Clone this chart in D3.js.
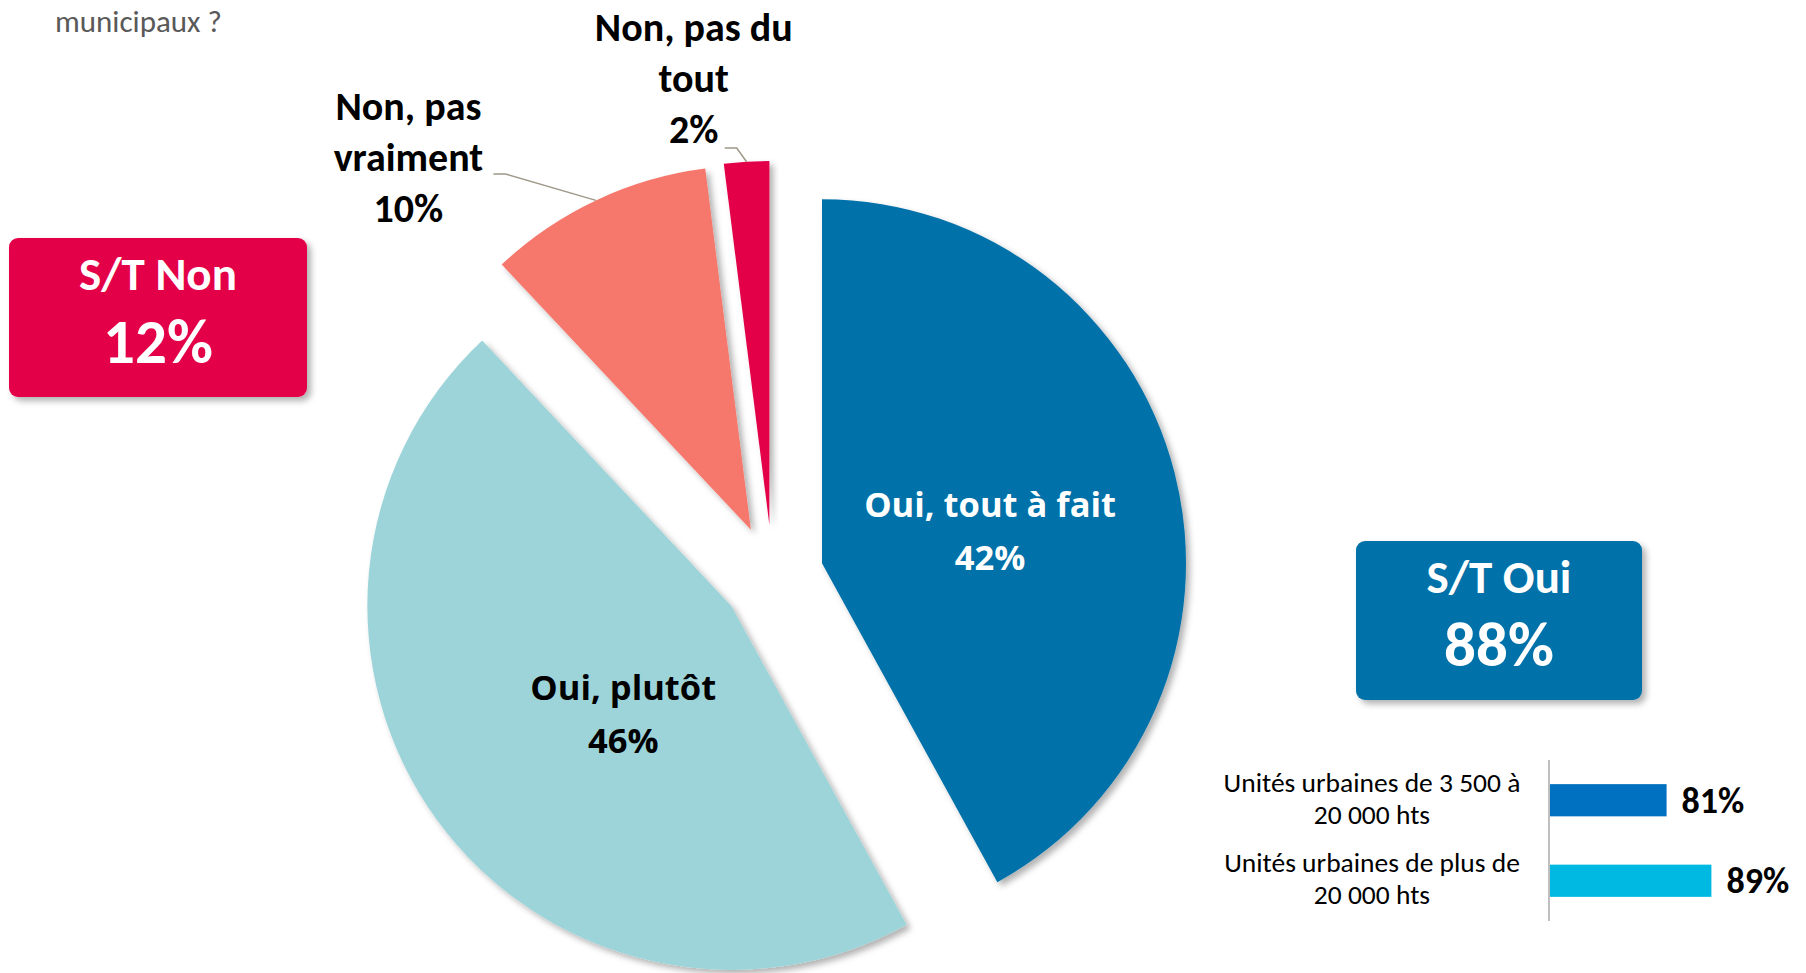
<!DOCTYPE html>
<html lang="fr">
<head>
<meta charset="utf-8">
<script src="https://cdn.jsdelivr.net/npm/d3@7"></script>
<style>
  body { margin: 0; background: #fff; }
  svg { display: block; font-family: Carlito, Calibri, "Liberation Sans Narrow", "Open Sans", sans-serif; }
</style>
</head>
<body>
<svg id="chart" width="1806" height="973"></svg>
<script>
// --- data ---
const categories = ["Oui, tout à fait", "Oui, plutôt", "Non, pas vraiment", "Non, pas du tout"];
const values = [42, 46, 10, 2];
const labelLines = [["Oui, tout à fait"], ["Oui, plutôt"], ["Non, pas", "vraiment"], ["Non, pas du", "tout"]];
const subtotalLabels = ["S/T Oui", "S/T Non"];
const subtotalParts = [[0, 1], [2, 3]];
const barCategories = [["Unités urbaines de 3 500 à", "20 000 hts"], ["Unités urbaines de plus de", "20 000 hts"]];
const barValues = [81, 89];
const questionTail = "municipaux ?";

// --- styles ---
const sliceColors = ["#0071A9", "#9DD4D9", "#F6786C", "#E4004A"];
const insideText = ["#ffffff", "#000000"];
const barColors = ["#0070C0", "#00B9E2"];
// inner labels: angle shift (deg) from slice middle, radius factor
const innerLabelStyle = {0: {shift: 3.7, rf: 0.47}, 1: {shift: -9, rf: 0.42}};
// outer labels: angle shift (deg) from slice middle, radius factor, leader start offset
const outerLabelStyle = {2: {shift: -15.8, rf: 1.525, lead: [85, 17]}, 3: {shift: -5.4, rf: 1.385, lead: [31, 70]}};

const width = 1806, height = 973;
const svg = d3.select("#chart");

const defs = svg.append("defs");
defs.append("filter").attr("id", "shadow")
  .attr("x", "-20%").attr("y", "-20%").attr("width", "140%").attr("height", "140%")
  .append("feDropShadow")
  .attr("dx", 4).attr("dy", 4).attr("stdDeviation", 3)
  .attr("flood-color", "#000").attr("flood-opacity", 0.3);

// question tail (top left)
svg.append("text")
  .attr("x", 55).attr("y", 32)
  .attr("fill", "#595959")
  .style("font-size", "31px")
  .text(questionTail);

// --- pie ---
const cx = 772.6, cy = 575.9, radius = 364, explode = 51;
const pie = d3.pie().sort(null).value(d => d).startAngle(0).endAngle(2 * Math.PI);
const arcs = pie(values);
const arc = d3.arc().innerRadius(0).outerRadius(radius);

const mid = d => (d.startAngle + d.endAngle) / 2;
const shift = d => [explode * Math.sin(mid(d)), -explode * Math.cos(mid(d))];

const pieG = svg.append("g").attr("transform", `translate(${cx},${cy})`);

pieG.selectAll("path.slice")
  .data(arcs)
  .join("path")
  .attr("class", "slice")
  .attr("transform", d => `translate(${shift(d)})`)
  .attr("d", arc)
  .attr("fill", (d, i) => sliceColors[i])
  .attr("filter", "url(#shadow)");

arcs.forEach((d, i) => {
  const pct = values[i] + "%";
  const lines = labelLines[i].concat([pct]);
  if (innerLabelStyle[i]) {
    // label inside the slice
    const st = innerLabelStyle[i];
    const [sx, sy] = shift(d);
    const a = mid(d) + st.shift * Math.PI / 180;
    const lx = sx + st.rf * radius * Math.sin(a), ly = sy - st.rf * radius * Math.cos(a);
    const lh = 53;
    pieG.append("text")
      .attr("text-anchor", "middle")
      .attr("fill", insideText[i])
      .style("font-family", "'Open Sans', sans-serif")
      .style("font-weight", "bold")
      .style("font-size", "34.5px")
      .selectAll("tspan")
      .data(lines)
      .join("tspan")
      .attr("x", lx)
      .attr("y", (t, j) => ly + (j - (lines.length - 1) / 2) * lh)
      .attr("dy", "0.35em")
      .text(t => t);
  } else {
    const st = outerLabelStyle[i];
    const a = mid(d) + st.shift * Math.PI / 180;
    const lx = st.rf * radius * Math.sin(a), ly = -st.rf * radius * Math.cos(a);
    const lh = 51;
    pieG.append("text")
      .attr("text-anchor", "middle")
      .attr("fill", "#000")
      .style("font-weight", "bold")
      .style("font-size", "40px")
      .selectAll("tspan")
      .data(lines)
      .join("tspan")
      .attr("x", lx)
      .attr("y", (t, j) => ly + (j - (lines.length - 1) / 2) * lh)
      .attr("dy", "0.35em")
      .text(t => t);

    // leader line to middle of the exploded arc
    const [sx, sy] = shift(d);
    const ex = sx + radius * Math.sin(mid(d)), ey = sy - radius * Math.cos(mid(d));
    const x0 = lx + st.lead[0], y0 = ly + st.lead[1];
    pieG.append("polyline")
      .attr("points", `${x0},${y0} ${x0 + 12},${y0} ${ex},${ey}`)
      .attr("fill", "none")
      .attr("stroke", "#A09888")
      .attr("stroke-width", 1.5);
  }
});

// --- subtotal boxes ---
const boxes = [
  {x: 1356, y: 541, w: 286, h: 159},
  {x: 9, y: 238, w: 298, h: 159}
];
subtotalLabels.forEach((lab, k) => {
  const b = boxes[k];
  const total = d3.sum(subtotalParts[k], i => values[i]);
  const g = svg.append("g");
  g.append("rect")
    .attr("x", b.x).attr("y", b.y)
    .attr("width", b.w).attr("height", b.h)
    .attr("rx", 9)
    .attr("fill", sliceColors[k === 0 ? 0 : 3])
    .attr("filter", "url(#shadow)");
  g.append("text")
    .attr("x", b.x + b.w / 2).attr("y", b.y + 36)
    .attr("dy", "0.35em")
    .attr("text-anchor", "middle")
    .attr("fill", "#fff")
    .style("font-weight", "bold")
    .style("font-size", "47px")
    .text(lab);
  g.append("text")
    .attr("x", b.x + b.w / 2).attr("y", b.y + 103)
    .attr("dy", "0.35em")
    .attr("text-anchor", "middle")
    .attr("fill", "#fff")
    .style("font-weight", "bold")
    .style("font-size", "63px")
    .text(total + "%");
});

// --- small bar chart ---
const axisX = 1549;
const xScale = d3.scaleLinear().domain([60, 100]).range([0, 224]);
const yScale = d3.scaleBand()
  .domain(d3.range(barValues.length))
  .range([760, 921])
  .paddingInner(0.6)
  .paddingOuter(0.3);

const barG = svg.append("g");
barG.selectAll("rect")
  .data(barValues)
  .join("rect")
  .attr("x", axisX)
  .attr("y", (d, i) => yScale(i))
  .attr("width", d => xScale(d))
  .attr("height", yScale.bandwidth())
  .attr("fill", (d, i) => barColors[i]);

barG.append("line")
  .attr("x1", axisX).attr("x2", axisX)
  .attr("y1", 760).attr("y2", 921)
  .attr("stroke", "#BFBFBF")
  .attr("stroke-width", 2);

barG.selectAll("text.val")
  .data(barValues)
  .join("text")
  .attr("class", "val")
  .attr("x", d => axisX + xScale(d) + 15)
  .attr("y", (d, i) => yScale(i) + yScale.bandwidth() / 2)
  .attr("dy", "0.35em")
  .style("font-weight", "bold")
  .style("font-size", "36px")
  .text(d => d + "%");

barCategories.forEach((lines, i) => {
  const yc = yScale(i) + yScale.bandwidth() / 2 - 2;
  barG.append("text")
    .attr("text-anchor", "middle")
    .attr("fill", "#000")
    .style("font-size", "27.5px")
    .selectAll("tspan")
    .data(lines)
    .join("tspan")
    .attr("x", 1372)
    .attr("y", (t, j) => yc + (j - 0.5) * 32)
    .attr("dy", "0.35em")
    .text(t => t);
});
</script>
</body>
</html>
